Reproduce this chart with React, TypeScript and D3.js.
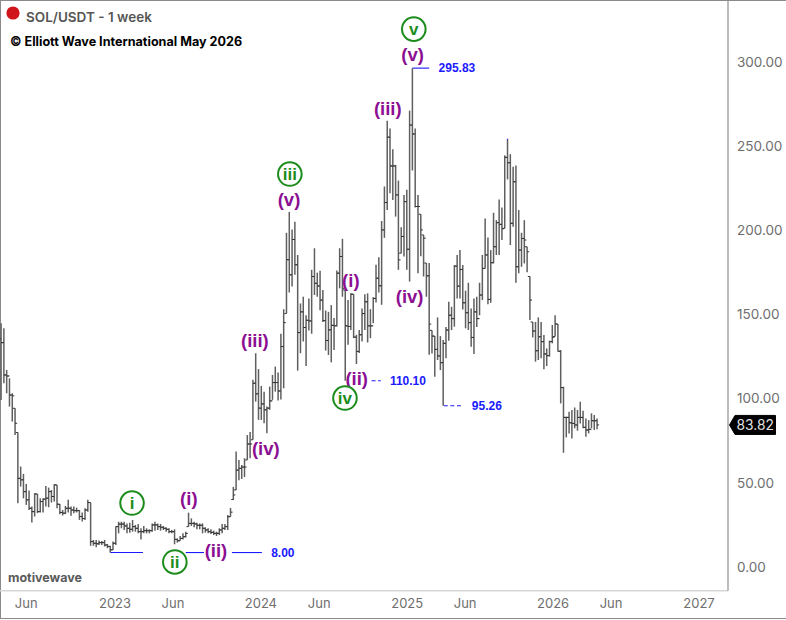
import React from "react";
import * as d3 from "d3";

const W = 786;
const H = 620;
const highs = [
  144.2,141.2,116.5,111.5,102.6,93.7,79.3,59.1,54.7,48.8,
  44.8,35.3,43.2,42.8,40.2,40.2,47.6,46.6,45.2,48.6,
  48.2,36.9,33.3,35.7,39.3,35.3,35.3,34.7,33.3,31.8,
  34.3,39.3,37.7,15.5,15.5,15.1,14.9,15.5,13.1,12,
  14.5,23.4,26.3,26.3,26.3,25.3,25.7,27.3,24.4,25,
  22.4,23.8,22.4,21.8,25.3,26.3,25.3,25,23.8,23,
  22.4,21.4,21.8,16.4,17.8,19.4,20.4,31.7,28.3,26.3,
  25.7,25.3,25.3,23,22.4,21.8,21,20.4,22.4,25,
  25,30.3,34.5,47,68,63,60,64,77.8,79.6,
  110.6,126.4,117,107,103.6,94.7,106.6,113.5,118.5,115,
  138,152.6,198,210.4,200,204.6,184.8,156,160,149,
  159,176,188.8,174.3,175.5,164,151.8,151,155,147.3,
  175.6,188.8,194.4,164,158,162,161.5,137.4,140.3,153,
  161.5,162,152.6,159.7,179,183.5,205,225.5,264.5,260,
  247.6,238.3,229,201.3,220.5,223.5,270.6,295.83,260,220.5,
  209,196.7,180,180,140,136.6,147.7,136.6,134.3,142,
  157,154,178.8,184.8,187.7,178.8,163.6,168.3,153,159,
  160,168.3,184.8,206.5,195.2,187.7,209.9,205.5,217.8,213,
  244,253.5,244.7,237.2,238,211.5,198,205.5,189.7,172,
  145,145,147.7,145,137.3,129.3,133.9,143.2,149,143.8,
  128.3,106.5,88.7,91.7,92.7,94.2,92.7,97.6,92.3,87.7,
  86.7,90.7,89.7,87.7,
];
const lows = [
  98.7,108.6,102.6,94.7,85.8,77.9,37.3,47.2,40.2,36.3,
  33.3,25.8,29.4,31.4,31.8,31.8,35.3,34.9,37.7,38.3,
  34.3,30.8,30,30.8,31.8,29.8,31.4,31.8,27.4,26.4,
  27.4,32.3,12,12,11.2,12.5,12.5,11.6,10.6,8,
  9.5,12.5,19.4,22.4,21.4,19.4,19.8,20.4,20.4,19.4,
  15.8,19.4,19.4,19.4,20.4,21,21.4,21,21.4,20.4,
  19.4,19.4,12.9,13.9,15,15.8,17,23.4,23.8,23,
  21.8,21.8,19.4,19.8,19.4,19,18.4,17.8,18.4,19.4,
  21.4,21.4,29.3,39.2,45.2,51,51.7,52.9,63,64,
  75,97.7,86.8,86.8,84.8,78.9,92.8,98.7,103.6,98.3,
  99,105.6,150,162.5,166,173,116.1,126.4,133.4,118.9,
  140,138,161,160,152,145,128,125.4,121,128.4,
  142.3,165,160,110.1,131.4,140.3,135.4,120,126.5,133.4,
  140.3,132.8,135.4,144.3,156.6,162.5,155.2,195,211.6,221.5,
  217.5,207.6,176,185.9,183.9,176,169,235,213,174,
  184,172,160,125.5,126.3,112.5,122.4,116.4,95.26,123.4,
  133.9,140.2,142.2,159,159,152.4,141.2,140.2,130.3,126,
  142,149,158,176.8,155.6,156.4,179.8,184.8,184.8,193.7,
  200.6,229.7,190.7,201.6,168.3,173.9,177.8,179.8,174.5,146.1,
  135.8,121.4,122.4,123.4,116.9,118.8,124.4,132.3,136.3,127.4,
  96.6,67.3,76.4,78.8,75.8,81.8,80.4,84.7,81.8,76.8,
  78.8,81.8,80.8,81.2,
];
const closes = [
  132.7,113.5,112.9,101.6,101.1,84.8,52.1,51.2,44.2,39.3,
  34.3,32.3,42.8,32.3,38.3,39.7,40.3,44.2,41.3,48.2,
  36.7,31.8,31.4,34.3,34.3,33.3,32.9,32.9,29.4,28.2,
  33.3,37.7,14.5,13.5,13.2,13.9,13.9,12.5,11.6,9.6,
  13.5,23.4,24.9,24.9,23.8,22.4,21.8,23.4,22.4,20.4,
  20.4,21,21,21,24.4,24.4,23.4,23,22.4,21.8,
  20.4,20.4,15.8,15,16.4,17.4,19.4,25.3,25.3,25,
  24.2,24.2,22.4,21.4,20.4,20,19.4,19.4,21.4,22.4,
  23.4,29.3,32,42.2,57,58,58.8,58.8,72.5,72.5,
  108.6,102.3,93.8,96.3,92.8,93.8,98.1,109,109,104,
  130.4,144.6,182,173,194,179,138.7,151,141.7,146,
  145.6,172,168,166.4,158,145.8,134,140.3,143,142.7,
  174,183.9,165,142.7,142.3,161.5,136,127.5,137.4,150,
  157,142.7,142.7,159,171,166.5,199.7,216,254.8,237.7,
  237.7,220.5,181.9,195.8,216.5,188.2,262,256.7,213.6,213.6,
  199.7,194.8,172.4,143.7,136.6,128.7,124.8,120.8,132.3,140.2,
  149,147,178.2,166.3,176.2,156.4,150.5,144.6,135.8,151,
  147,161,176.8,184.8,158.4,180.2,189.7,204,203,200.4,
  242.8,239.6,203.6,228.3,177.8,187.7,194.6,193.7,186.7,158,
  139.6,127.9,136.2,133.3,126,125,133.3,135.9,143.8,127.6,
  106,88.3,88.3,85.1,84.7,83.8,88.3,88.3,82.4,80.8,
  81.2,86.3,86.3,83.82,
];
const opens = [
  135,132.7,113.5,112.9,101.6,93.7,79.3,52.1,51.2,44.2,
  39.3,34.3,32.3,42.8,32.3,38.3,39.7,40.3,44.2,41.3,
  48.2,36.7,31.8,31.4,34.3,34.3,33.3,32.9,32.9,29.4,
  28.2,33.3,37.7,14.5,13.5,13.2,13.9,13.9,12.5,11.6,
  9.6,13.5,23.4,24.9,24.9,23.8,22.4,21.8,23.4,22.4,
  20.4,20.4,21,21,21,24.4,24.4,23.4,23,22.4,
  21.8,20.4,20.4,15.8,15,16.4,17.4,23.4,25.3,25.3,
  25,24.2,24.2,22.4,21.4,20.4,20,19.4,19.4,21.4,
  22.4,23.4,29.3,39.5,45.2,57,58,58.8,63,72.5,
  75,108.6,102.3,93.8,96.3,92.8,93.8,98.1,109,109,
  104,130.4,150,182,173,194,179,138.7,151,141.7,
  146,145.6,172,168,166.4,158,145.8,134,140.3,143,
  142.7,174,183.9,164,142.7,142.3,161.5,136,127.5,137.4,
  150,157,142.7,142.7,159,171,166.5,199.7,216,254.8,
  237.7,237.7,220.5,185.9,195.8,216.5,188.2,262,256.7,213.6,
  209,196.7,180,172.4,140,136.6,128.7,124.8,120.8,132.3,
  140.2,149,147,178.2,166.3,176.2,156.4,150.5,144.6,135.8,
  151,147,161,176.8,184.8,158.4,180.2,189.7,204,203,
  200.6,242.8,239.6,203.6,228.3,177.8,187.7,194.6,189.7,172,
  145,139.6,127.9,136.2,133.3,126,125,133.3,136.3,143.8,
  127.6,106,88.3,88.3,85.1,84.7,83.8,88.3,88.3,82.4,
  80.8,81.2,86.3,86.3,
];

const yTicks = [0, 50, 100, 150, 200, 250, 300];
const xTickLabels = ["Jun", "2023", "Jun", "2024", "Jun", "2025", "Jun", "2026", "Jun", "2027"];
const xTickDates = [
  "2022-05-24", "2023-01-01", "2023-05-26", "2024-01-01", "2024-05-26",
  "2025-01-01", "2025-05-26", "2026-01-01", "2026-05-26", "2027-01-01",
];
const lastPrice = 83.82;

// wave labels: text, bar position, price position of the label's centre
const minorLabels: [string, number, number][] = [
  ["(i)", 67.1, 40.4], ["(ii)", 76.8, 9.5], ["(iii)", 90.7, 134.3], ["(iv)", 94.6, 70.1],
  ["(v)", 102.9, 218], ["(i)", 125, 170], ["(ii)", 127.1, 111.7], ["(iii)", 138.2, 272],
  ["(iv)", 146, 160.4], ["(v)", 147.1, 304],
];
const majorLabels: [string, number, number][] = [
  ["i", 46.8, 37.4], ["ii", 62.1, 2.4], ["iii", 103.2, 232.9], ["iv", 122.9, 99.8], ["v", 147.5, 319],
];
// price levels: value, label bar, [from bar, to bar, dashed]
const levels: [number, number, [number, number, boolean][]][] = [
  [295.83, 162.9, [[147, 153, false]]],
  [110.1, 145.4, [[132.4, 135.7, true]]],
  [95.26, 173.6, [[158.2, 165, true]]],
  [8.0, 100.7, [[39, 50.7, false], [66, 72.5, false], [82.5, 93.2, false]]],
];

const FONT = "Inter, 'Liberation Sans', sans-serif";
const BOLD = "'Liberation Sans', Arial, sans-serif";

export default function App() {
  const y = d3.scaleLinear().domain([0, 300]).range([566, 61.1]);
  const x = d3
    .scaleUtc()
    .domain([new Date("2023-01-01"), new Date("2027-01-01")])
    .range([115, 699]);
  const first = d3.utcDay.offset(new Date("2023-01-01"), -285);
  const barX = (i: number) => x(new Date(first.getTime() + i * 7 * 864e5));
  const tick = 2.1;
  const plotRight = 728;
  const plotBottom = 590.7;
  const badgeY = y(lastPrice);

  return (
    <svg
      width={W}
      height={H}
      viewBox={`0 0 ${W} ${H}`}
      style={{ position: "fixed", left: 0, top: 0, background: "#fff" }}
    >
      <rect x={0} y={0} width={W} height={619} fill="#fff" />
      <line x1={0} x2={W} y1={0.5} y2={0.5} stroke="#8a8a8a" />
      <line x1={0.5} x2={0.5} y1={0} y2={618} stroke="#8a8a8a" />
      <line x1={0} x2={W} y1={618.5} y2={618.5} stroke="#8a8a8a" />
      <line x1={0} x2={plotRight} y1={plotBottom} y2={plotBottom} stroke="#d6d6d6" strokeWidth={1.4} />
      <line x1={plotRight} x2={plotRight} y1={0} y2={plotBottom} stroke="#8f8f8f" strokeWidth={1.2} />

      {/* level lines */}
      {levels.map(([v, lb, segs], i) => (
        <g key={i}>
          {segs.map(([a, b, dashed], j) => (
            <line
              key={j}
              x1={barX(a)}
              x2={barX(b)}
              y1={y(v)}
              y2={y(v)}
              stroke="#1a1aff"
              strokeWidth={1.1}
              strokeDasharray={dashed ? "4 2.6" : undefined}
            />
          ))}
          <text
            x={barX(lb)}
            y={y(v)}
            dy="0.36em"
            textAnchor="middle"
            fontFamily={BOLD}
            fontWeight={700}
            fontSize={12}
            fill="#1a1aff"
          >
            {v.toFixed(2)}
          </text>
        </g>
      ))}

      {/* OHLC bars */}
      <g>
        {highs.map((h, i) => {
          const cx = barX(i);
          return (
            <g key={i}>
              <line x1={cx} x2={cx} y1={y(h)} y2={y(lows[i])} stroke="#5f5f5f" strokeWidth={1.5} />
              <line x1={cx - tick} x2={cx} y1={y(opens[i])} y2={y(opens[i])} stroke="#333" strokeWidth={1} />
              <line x1={cx} x2={cx + tick} y1={y(closes[i])} y2={y(closes[i])} stroke="#333" strokeWidth={1} />
            </g>
          );
        })}
      </g>
      <line x1={barX(181) - 0.5} x2={barX(181) + 0.5} y1={y(253.5)} y2={y(253.5)} stroke="#1a1aff" strokeWidth={1.4} />

      {/* minor wave labels */}
      {minorLabels.map(([t, b, v], i) => (
        <text
          key={i}
          x={barX(b)}
          y={y(v)}
          dy="0.36em"
          textAnchor="middle"
          fontFamily={BOLD}
          fontWeight={700}
          fontSize={18.5}
          fill="#8b0f92"
        >
          {t}
        </text>
      ))}
      {/* major wave labels */}
      {majorLabels.map(([t, b, v], i) => (
        <g key={i}>
          <circle cx={barX(b)} cy={y(v)} r={11.8} fill="#fff" stroke="#1c8c1c" strokeWidth={2} />
          <text
            x={barX(b)}
            y={y(v)}
            dy="0.36em"
            textAnchor="middle"
            fontFamily={BOLD}
            fontWeight={700}
            fontSize={17}
            fill="#1c8c1c"
          >
            {t}
          </text>
        </g>
      ))}

      {/* y axis */}
      {yTicks.map((v) => (
        <text key={v} x={737} y={y(v) + 0.8} dy="0.36em" fontFamily={FONT} fontSize={13.5} fill="#6e6e6e">
          {v.toFixed(2)}
        </text>
      ))}
      <path
        d={`M729.5 ${badgeY} L735 ${badgeY - 9.5} H775.5 V${badgeY + 9.5} H735 Z`}
        fill="#000"
        stroke="#000"
        strokeLinejoin="round"
      />
      <text x={736.5} y={badgeY + 0.6} dy="0.36em" fontFamily={FONT} fontSize={13.8} fill="#e4e4e4">
        {lastPrice.toFixed(2)}
      </text>

      {/* x axis */}
      {xTickLabels.map((t, i) => (
        <text
          key={i}
          x={x(new Date(xTickDates[i]))}
          y={603.5}
          dy="0.36em"
          textAnchor="middle"
          fontFamily={FONT}
          fontSize={13}
          fill="#6e6e6e"
        >
          {t}
        </text>
      ))}

      {/* header */}
      <circle cx={13} cy={13} r={6.6} fill="#d0161b" />
      <text x={26} y={21.5} fontFamily={FONT} fontWeight={600} fontSize={13.5} fill="#555">
        SOL/USDT - 1 week
      </text>
      <text x={10} y={45.5} fontFamily={FONT} fontWeight={700} fontSize={12.6} fill="#000">
        © Elliott Wave International May 2026
      </text>
      <text x={8} y={581.5} fontFamily={FONT} fontWeight={700} fontSize={12.5} fill="#5a5a5a">
        motivewave
      </text>
    </svg>
  );
}
